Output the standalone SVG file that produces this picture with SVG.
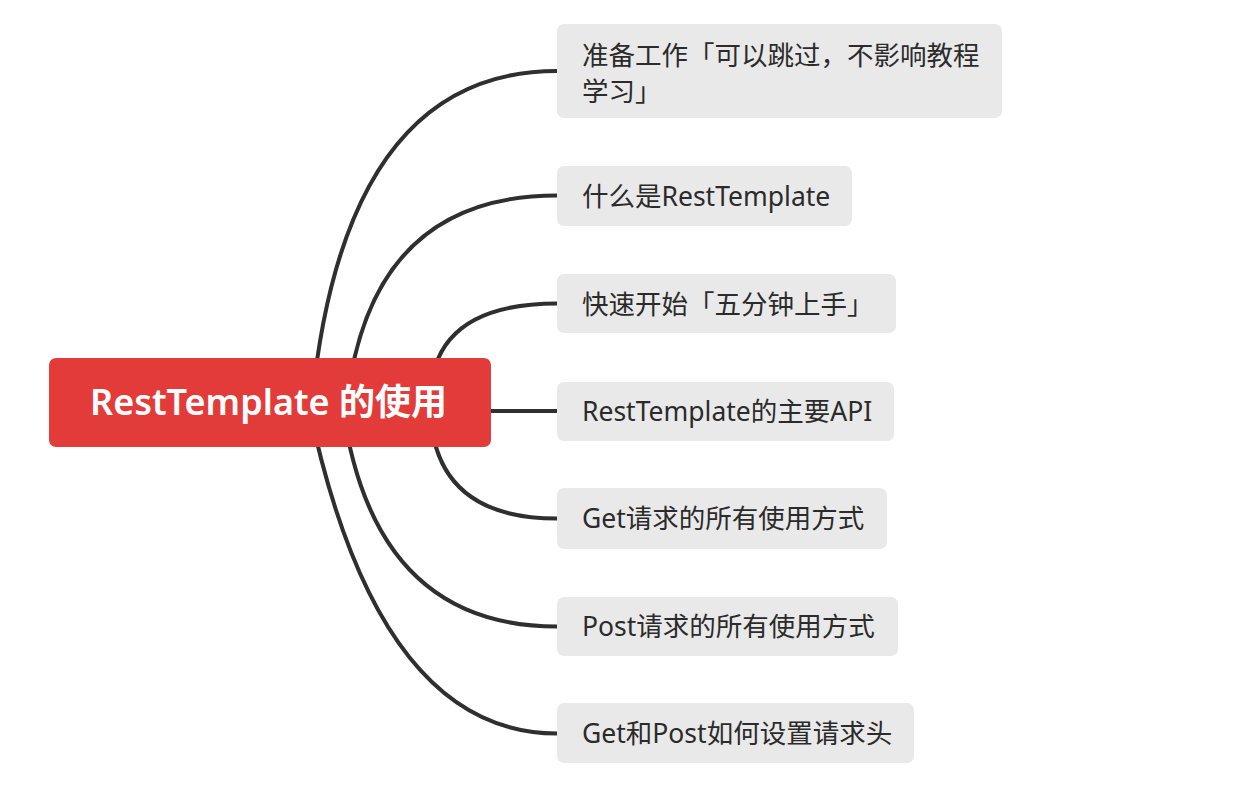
<svg xmlns="http://www.w3.org/2000/svg" width="1240" height="796" viewBox="0 0 1240 796">
<style>
.bg{fill:#ffffff}
.conn path{fill:none;stroke:#2f2f2f;stroke-width:4;stroke-linecap:round}
.child rect{fill:#E9E9E9}
.child text{font-family:"Noto Sans","Noto Sans CJK SC",sans-serif;font-size:26.5px;fill:#2b2b2b}
.root rect{fill:#E23B3A}
.root text{font-family:"Noto Sans","Noto Sans CJK SC",sans-serif;font-size:36px;font-weight:600;fill:#ffffff}
</style>
<rect class="bg" x="0" y="0" width="1240" height="796"/>
<g id="connectors" class="conn">
<path d="M 312 402 Q 345 71 557 71"/>
<path d="M 347 402 Q 371 195.5 557 195.5"/>
<path d="M 430 402 Q 430 303.5 557 303.5"/>
<path d="M 470 411 L 557 411"/>
<path d="M 430 402 Q 430 518.5 557 518.5"/>
<path d="M 342 402 Q 371 626.5 557 626.5"/>
<path d="M 308 402 Q 376 733.5 557 733.5"/>
</g>
<g id="root" class="root">
<rect x="49" y="358" width="442" height="89" rx="7"/>
<text x="90" y="415">RestTemplate 的使用</text>
</g>
<g id="n1" class="child">
<rect x="557" y="24" width="445" height="94" rx="7"/>
<text x="582" y="65">准备工作「可以跳过，不影响教程</text>
<text x="582" y="101">学习」</text>
</g>
<g id="n2" class="child">
<rect x="557" y="166" width="295" height="60" rx="7"/>
<text x="582" y="206">什么是RestTemplate</text>
</g>
<g id="n3" class="child">
<rect x="557" y="274" width="339" height="59" rx="7"/>
<text x="582" y="314">快速开始「五分钟上手」</text>
</g>
<g id="n4" class="child">
<rect x="557" y="382" width="337" height="59" rx="7"/>
<text x="582" y="421">RestTemplate的主要API</text>
</g>
<g id="n5" class="child">
<rect x="557" y="488" width="330" height="61" rx="7"/>
<text x="582" y="528">Get请求的所有使用方式</text>
</g>
<g id="n6" class="child">
<rect x="557" y="597" width="341" height="59" rx="7"/>
<text x="582" y="636">Post请求的所有使用方式</text>
</g>
<g id="n7" class="child">
<rect x="557" y="703" width="357" height="60" rx="7"/>
<text x="582" y="743">Get和Post如何设置请求头</text>
</g>
</svg>
